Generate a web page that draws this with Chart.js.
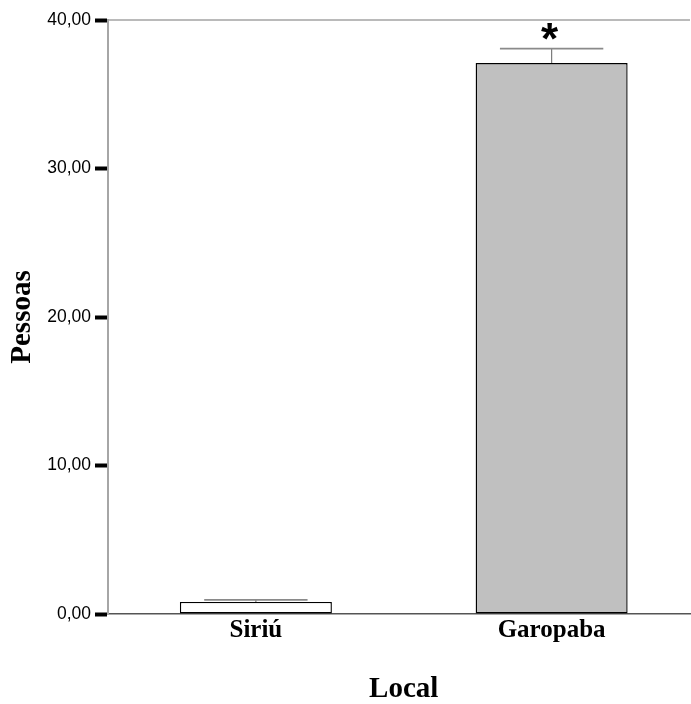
<!DOCTYPE html>
<html>
<head>
<meta charset="utf-8">
<script src="https://cdn.jsdelivr.net/npm/chart.js@4"></script>
<style>
  html, body { margin: 0; padding: 0; background: #ffffff; }
  #wrap { width: 691px; height: 704px; }
</style>
</head>
<body>
<div id="wrap"><canvas id="chart" width="691" height="704"></canvas></div>
<script>
// Mean number of people per site, with upper error limits
const locais = ['Siriú', 'Garopaba'];
const pessoas = [0.81, 37.1];
const limiteSuperior = [0.95, 38.07];
const significancia = ['', '*'];
const yTicks = [0, 10, 20, 30, 40];

const SANS = '"Liberation Sans", Arial, sans-serif';
const SERIF = '"Liberation Serif", "Times New Roman", serif';

// The plot frame runs past the right edge of the canvas (cropped layout)
const widenPlot = {
  id: 'widenPlot',
  afterLayout(chart) {
    const extra = 8.5;
    const x = chart.scales.x;
    x.right += extra;
    x.width += extra;
    x.configure();
    chart.chartArea.right += extra;
    chart.chartArea.width += extra;
  }
};

// Error bars, significance marks and the top frame line
const extras = {
  id: 'extras',
  afterDatasetsDraw(chart) {
    const ctx = chart.ctx;
    const y = chart.scales.y;
    const area = chart.chartArea;
    const bars = chart.getDatasetMeta(0).data;

    ctx.save();
    // top frame line
    ctx.strokeStyle = '#a3a3a3';
    ctx.lineWidth = 1.5;
    ctx.beginPath();
    ctx.moveTo(area.left, area.top);
    ctx.lineTo(chart.width - 1, area.top);
    ctx.stroke();

    bars.forEach((bar, i) => {
      const yTop = y.getPixelForValue(limiteSuperior[i]);
      const half = bar.width * 0.34;
      ctx.strokeStyle = '#7a7a7a';
      ctx.lineWidth = 1.2;
      ctx.beginPath();
      ctx.moveTo(bar.x, bar.y);
      ctx.lineTo(bar.x, yTop);
      ctx.stroke();
      ctx.strokeStyle = '#8a8a8a';
      ctx.lineWidth = 1.8;
      ctx.beginPath();
      ctx.moveTo(bar.x - half, yTop);
      ctx.lineTo(bar.x + half, yTop);
      ctx.stroke();

      if (significancia[i]) {
        ctx.font = 'bold 44px ' + SANS;
        ctx.fillStyle = '#000000';
        ctx.textAlign = 'center';
        ctx.textBaseline = 'alphabetic';
        const m = ctx.measureText(significancia[i]);
        const inkMid = (m.actualBoundingBoxAscent - m.actualBoundingBoxDescent) / 2;
        ctx.fillText(significancia[i], bar.x - 2, yTop - 17 + inkMid);
      }
    });
    ctx.restore();
  }
};

new Chart(document.getElementById('chart'), {
  type: 'bar',
  data: {
    labels: locais,
    datasets: [{
      data: pessoas,
      backgroundColor: ['#ffffff', '#c0c0c0'],
      borderColor: '#000000',
      borderWidth: 1.4,
      borderSkipped: false,
      barPercentage: 0.514,
      categoryPercentage: 1
    }]
  },
  options: {
    responsive: false,
    animation: false,
    events: [],
    layout: { padding: { top: 20, right: 0, bottom: 0, left: 0 } },
    plugins: {
      legend: { display: false },
      tooltip: { enabled: false }
    },
    scales: {
      x: {
        type: 'category',
        offset: true,
        afterFit(scale) { scale.height = 90; },
        grid: { display: false, drawTicks: false },
        border: { display: true, color: '#555555', width: 1.5 },
        ticks: {
          color: '#000000',
          padding: 2,
          maxRotation: 0,
          font: { family: SERIF, size: 25, weight: 'bold' }
        },
        title: {
          display: true,
          text: 'Local',
          color: '#000000',
          padding: { top: 0, bottom: 0 },
          font: { family: SERIF, size: 29, weight: 'bold', lineHeight: 1 }
        }
      },
      y: {
        min: 0,
        max: 40,
        afterFit(scale) { scale.width = 108; },
        afterBuildTicks(scale) { scale.ticks = yTicks.map(v => ({ value: v })); },
        grid: {
          drawOnChartArea: false,
          drawTicks: true,
          tickLength: 13,
          tickWidth: 4,
          tickColor: '#000000'
        },
        border: { display: true, color: '#a6a6a6', width: 2 },
        ticks: {
          color: '#000000',
          padding: 4,
          font: { family: SANS, size: 17.5 },
          callback: v => v.toFixed(2).replace('.', ',')
        },
        title: {
          display: true,
          text: 'Pessoas',
          color: '#000000',
          padding: { top: 8, bottom: 0 },
          font: { family: SERIF, size: 29, weight: 'bold', lineHeight: 1 }
        }
      }
    }
  },
  plugins: [widenPlot, extras]
});
</script>
</body>
</html>
